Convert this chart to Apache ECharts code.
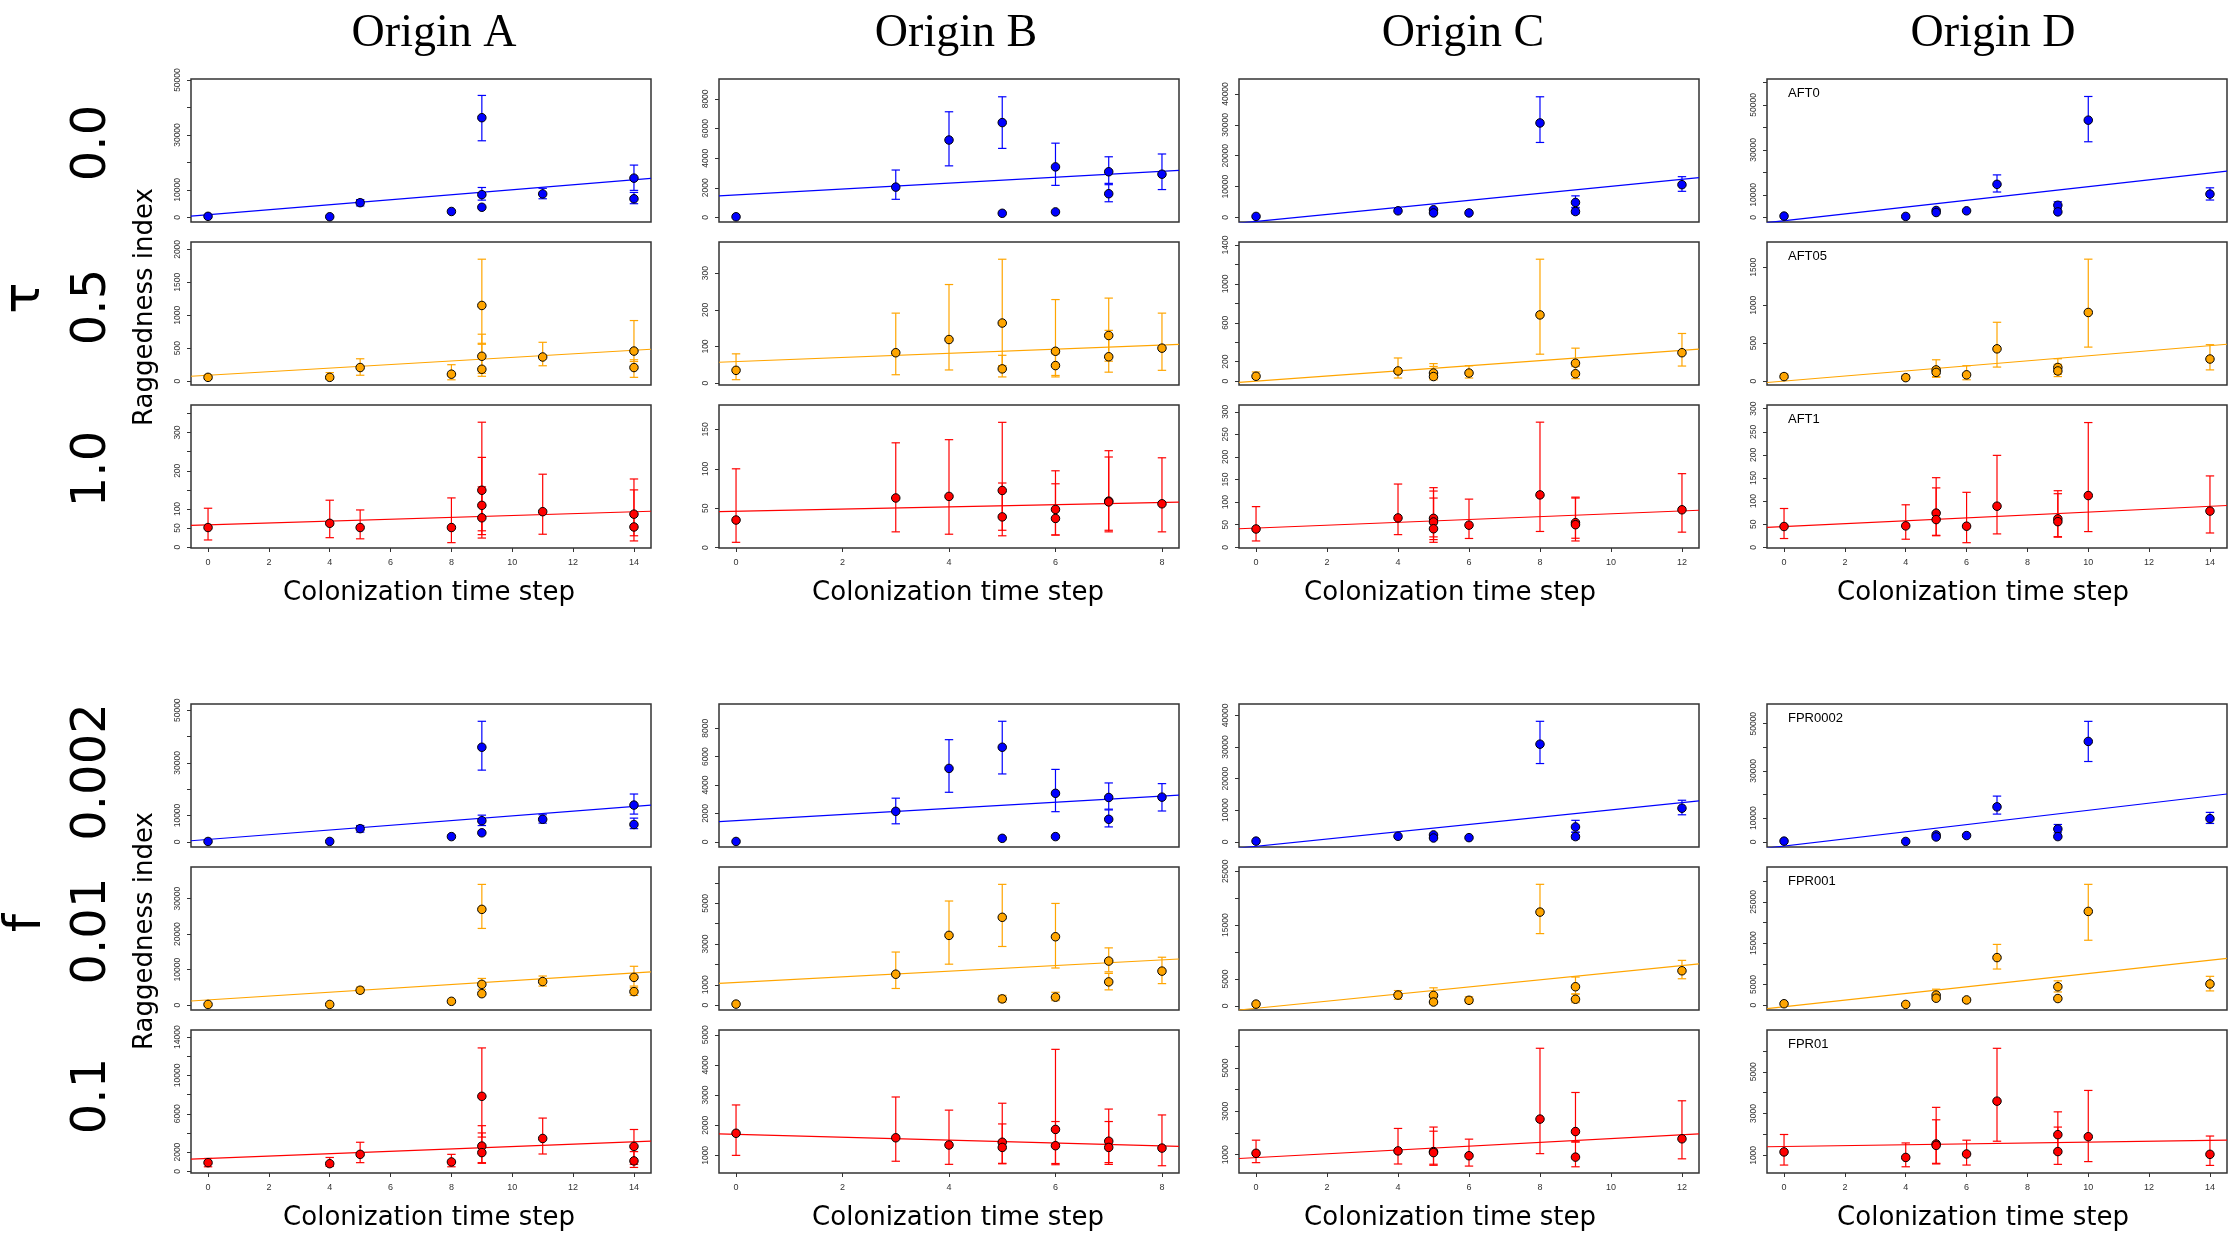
<!DOCTYPE html>
<html>
<head>
<meta charset="utf-8">
<script src="https://cdn.jsdelivr.net/npm/echarts@6/dist/echarts.min.js"></script>
<style>
  html, body { margin: 0; padding: 0; background: #ffffff; }
  #chart { width: 2230px; height: 1235px; }
</style>
</head>
<body>
<div id="chart"></div>
<script>
// ---------- labels ----------
const originNames = ['Origin A', 'Origin B', 'Origin C', 'Origin D'];
const tauLevels = ['0.0', '0.5', '1.0'];
const fprLevels = ['0.002', '0.01', '0.1'];
const tauCodes = ['AFT0', 'AFT05', 'AFT1'];
const fprCodes = ['FPR0002', 'FPR001', 'FPR01'];
const xTitle = 'Colonization time step';
const yTitle = 'Raggedness index';

// ---------- x axes (one per origin) ----------
const xTicksA = [0, 2, 4, 6, 8, 10, 12, 14];
const xTicksB = [0, 2, 4, 6, 8];
const xTicksC = [0, 2, 4, 6, 8, 10, 12];
const xTicksD = [0, 2, 4, 6, 8, 10, 12, 14];
const xRangeA = [-0.56, 14.56];
const xRangeB = [-0.32, 8.32];
const xRangeC = [-0.48, 12.48];
const xRangeD = [-0.56, 14.56];

// ---------- shared y tick sets ----------
const ticks50k = [0, 10000, 20000, 30000, 40000, 50000];
const labels50k = [0, 10000, 30000, 50000];
const ticks60k = [0, 10000, 20000, 30000, 40000, 50000, 60000];
const ticks40k = [0, 10000, 20000, 30000, 40000];
const ticks30k = [0, 10000, 20000, 30000];
const ticks8k = [0, 2000, 4000, 6000, 8000];
const ticks300by50 = [0, 50, 100, 150, 200, 250, 300];
const ticks1to6k = [1000, 2000, 3000, 4000, 5000, 6000];
const labels1to6k = [1000, 3000, 5000];

// ---------- tau block: [time step, mean, lower, upper] ----------
const ptsTauA0 = [[0, 400, null, null], [4, 250, null, null], [5, 5370, 4200, 6500], [8, 2170, null, null],
  [9, 36300, 27900, 44400], [9, 8300, 6300, 10900], [9, 3700, null, null], [11, 8570, 6800, 10600],
  [14, 14300, 9850, 19050], [14, 6800, 5000, 9100]];
const ptsTauA05 = [[0, 58, 30, 95], [4, 58, 30, 130], [5, 207, 90, 340], [8, 106, 21, 250],
  [9, 1149, 560, 1851], [9, 378, 120, 713], [9, 181, 74, 575], [11, 367, 234, 590],
  [14, 457, 298, 920], [14, 207, 58, 325]];
const ptsTauA1 = [[0, 51.5, 19, 102], [4, 62.6, 25, 123], [5, 51.5, 22, 97.5], [8, 51.5, 12, 129],
  [9, 149, 43, 327], [9, 109.5, 33, 235], [9, 77, 24, 158], [11, 93, 34, 191],
  [14, 86.5, 30, 178.5], [14, 53, 16.5, 150]];
const ptsTauB0 = [[0, 47, null, null], [3, 2047, 1224, 3200], [4, 5224, 3482, 7130], [5, 6400, 4659, 8141],
  [5, 282, null, null], [6, 3412, 2165, 5012], [6, 376, null, null], [7, 3082, 2300, 4094],
  [7, 1600, 1059, 2212], [8, 2918, 1882, 4282]];
const ptsTauB05 = [[0, 35, 9.5, 80], [3, 83, 23, 191], [4, 119, 36, 269], [5, 164, 48, 338],
  [5, 39, 17, 76], [6, 87, 21, 228], [6, 48, 17, 80], [7, 130, 60, 232],
  [7, 72, 30, 144], [8, 95.5, 35, 191]];
const ptsTauB1 = [[0, 35, 6.7, 100], [3, 63, 20, 133], [4, 65, 17, 137], [5, 72.5, 22, 159],
  [5, 39, 15, 82], [6, 48.5, 16, 97.5], [6, 37, 16, 81], [7, 59, 22, 123],
  [7, 58, 20, 115], [8, 55.6, 20, 114]];
const ptsTauC0 = [[0, 339, null, null], [4, 2147, null, null], [5, 2486, null, null], [5, 1469, null, null],
  [6, 1469, null, null], [8, 30620, 24300, 39100], [9, 4860, 3050, 7000], [9, 1920, 1200, 3280],
  [12, 10620, 8470, 13220]];
const ptsTauC05 = [[0, 50, 30, 94], [4, 104.5, 32, 238], [5, 83, 30, 180], [5, 47, 14, 151],
  [6, 83, 32, 158], [8, 681, 277, 1254], [9, 184, 60, 339], [9, 76, 25, 150],
  [12, 292, 155, 490]];
const ptsTauC1 = [[0, 40.5, 14, 90], [4, 65, 28, 140], [5, 64, 23, 132], [5, 56, 17, 124.5],
  [5, 41, 11, 109], [6, 49, 19.5, 106.6], [8, 116, 35, 277], [9, 54.5, 20, 111],
  [9, 50, 14, 109], [12, 83, 33.5, 163]];
const ptsTauD0 = [[0, 619, null, null], [4, 464, null, null], [5, 3100, null, null], [5, 2200, null, null],
  [6, 2941, null, null], [7, 14700, 11300, 18900], [9, 5418, 3900, 6966], [9, 2477, null, null],
  [10, 43190, 33600, 53700], [14, 10370, 7740, 13160]];
const ptsTauD05 = [[0, 60, 40, 97], [4, 46, 25, 80], [5, 148, 60, 281], [5, 115, 50, 180],
  [6, 83, 18, 203], [7, 425, 185, 775], [9, 180, 90, 295], [9, 134, 60, 221],
  [10, 904, 448, 1606], [14, 291, 148, 480]];
const ptsTauD1 = [[0, 45, 19, 84], [4, 46.4, 17.5, 92], [5, 74, 26, 150.7], [5, 60, 25, 128.6],
  [6, 45.7, 10, 119], [7, 89, 29, 199], [9, 61.6, 23, 122.5], [9, 55.5, 22, 116],
  [10, 112, 34, 270], [14, 78.4, 31, 154.5]];

// ---------- false-positive-rate block ----------
const ptsFprA0002 = [[0, 132, null, null], [4, 132, null, null], [5, 5000, 3680, 6180], [8, 1974, null, null],
  [9, 35930, 27240, 45800], [9, 8030, 6180, 10130], [9, 3420, null, null], [11, 8550, 7100, 10270],
  [14, 13950, 10530, 18160], [14, 6580, 5000, 9000]];
const ptsFprA001 = [[0, 195, null, null], [4, 195, null, null], [5, 4200, 3420, 5080], [8, 1075, null, null],
  [9, 26970, 21600, 34000], [9, 5860, 4490, 7520], [9, 3225, null, null], [11, 6640, 5370, 8200],
  [14, 7820, 5370, 10940], [14, 3810, 2740, 4900]];
const ptsFprA01 = [[0, 900, 470, 1333], [4, 793, 505, 1440], [5, 1766, 900, 3027], [8, 973, 470, 1766],
  [9, 7820, 3568, 12870], [9, 2630, 900, 4757], [9, 1946, 830, 4000], [11, 3424, 1802, 5550],
  [14, 2595, 720, 4360], [14, 1081, 400, 2050]];
const ptsFprB0002 = [[0, 24, null, null], [3, 2146, 1268, 3073], [4, 5170, 3488, 7195], [5, 6660, 4780, 8490],
  [5, 244, null, null], [6, 3415, 2122, 5100], [6, 366, null, null], [7, 3122, 2300, 4146],
  [7, 1585, 1049, 2244], [8, 3146, 2170, 4098]];
const ptsFprB001 = [[0, 51, null, null], [3, 1518, 818, 2608], [4, 3427, 2012, 5115], [5, 4314, 2881, 5933],
  [5, 307, 150, 480], [6, 3359, 1824, 4996], [6, 392, 222, 631], [7, 2165, 1637, 2813],
  [7, 1142, 750, 1560], [8, 1671, 1057, 2353]];
const ptsFprB01 = [[0, 1733, 1000, 2673], [3, 1584, 805, 2937], [4, 1344, 702, 2501], [5, 1435, 736, 2730],
  [5, 1264, 720, 2043], [6, 1860, 730, 4518], [6, 1321, 690, 2123], [7, 1470, 760, 2536],
  [7, 1264, 700, 2123], [8, 1241, 656, 2341]];
const ptsFprC0002 = [[0, 219, null, null], [4, 1754, null, null], [5, 2190, null, null], [5, 1205, null, null],
  [6, 1315, null, null], [8, 30900, 24770, 38140], [9, 4713, 3000, 6800], [9, 1644, 900, 3070],
  [12, 10630, 8550, 13150]];
const ptsFprC001 = [[0, 322, null, null], [4, 2000, 1225, 2838], [5, 1935, 1000, 3350], [5, 710, 400, 1500],
  [6, 1032, 516, 1677], [8, 17420, 13420, 22580], [9, 3548, 2200, 5354], [9, 1225, 600, 2193],
  [12, 6515, 5031, 8450]];
const ptsFprC01 = [[0, 1064, 633, 1670], [4, 1175, 570, 2211], [5, 1143, 560, 2275], [5, 1096, 510, 2084],
  [6, 952, 474, 1717], [8, 2642, 1048, 5910], [9, 2068, 1590, 3870], [9, 888, 442, 1590],
  [12, 1733, 809, 3487]];
const ptsFprD0002 = [[0, 293, null, null], [4, 147, null, null], [5, 2932, null, null], [5, 2053, null, null],
  [6, 2639, null, null], [7, 14800, 11730, 19350], [9, 5425, 3800, 7330], [9, 2200, null, null],
  [10, 42500, 34000, 51000], [14, 9820, 7770, 12460]];
const ptsFprD001 = [[0, 336, null, null], [4, 168, null, null], [5, 2437, 1500, 3865], [5, 1680, null, null],
  [6, 1260, 800, 1700], [7, 11510, 8740, 14700], [9, 4454, 3190, 5880], [9, 1597, null, null],
  [10, 22690, 15710, 29240], [14, 5126, 3445, 6975]];
const ptsFprD01 = [[0, 1165, 537, 2000], [4, 901, 455, 1595], [5, 1545, 620, 3298], [5, 1479, 590, 2703],
  [6, 1066, 537, 1727], [7, 3595, 1678, 6124], [9, 1992, 1100, 3083], [9, 1182, 570, 2355],
  [10, 1893, 702, 4108], [14, 1050, 520, 1926]];

// ---------- fitted lines: [intercept, slope] ----------
const fitTauA0 = [1000, 910], fitTauA05 = [90, 27.1], fitTauA1 = [58.4, 2.45];
const fitTauB0 = [1523, 198.7], fitTauB05 = [58.8, 5.67], fitTauB1 = [46.2, 1.4];
const fitTauC0 = [-1300, 1140], fitTauC05 = [0, 26.4], fitTauC1 = [42.5, 3.16];
const fitTauD0 = [-1474, 1515], fitTauD05 = [0.6, 33.3], fitTauD1 = [45.1, 3.12];
const fitFprA0002 = [897, 896.5], fitFprA001 = [1476, 543], fitFprA01 = [1330, 124];
const fitFprB0002 = [1485, 217.4], fitFprB001 = [1118, 138], fitFprB01 = [1695, -47.7];
const fitFprC0002 = [-1421, 1150], fitFprC001 = [-456, 662], fitFprC01 = [867, 87.3];
const fitFprD0002 = [-1793, 1512.6], fitFprD001 = [-389, 805.6], fitFprD01 = [1425, 20.8];

// ---------- y ranges ----------
const yRangeTauA0 = [-1660, 50380], yRangeTauA05 = [-58, 2112], yRangeTauA1 = [-2, 372];
const yRangeTauB0 = [-306, 9341], yRangeTauB05 = [-5, 385], yRangeTauB1 = [-0.5, 181];
const yRangeTauC0 = [-1469, 44860], yRangeTauC05 = [-40, 1431], yRangeTauC1 = [-1.6, 315];
const yRangeTauD0 = [-2012, 61460], yRangeTauD05 = [-51, 1832], yRangeTauD1 = [-1.5, 308];
const yRangeFprA0002 = [-1974, 52370], yRangeFprA001 = [-1368, 38900], yRangeFprA01 = [-180, 14740];
const yRangeFprB0002 = [-366, 9707], yRangeFprB001 = [-239, 6786], yRangeFprB01 = [415, 5160];
const yRangeFprC0002 = [-1644, 43620], yRangeFprC001 = [-774, 25800], yRangeFprC01 = [155, 6753];
const yRangeFprD0002 = [-2200, 58350], yRangeFprD001 = [-1176, 33440], yRangeFprD01 = [157, 7000];

// ---------- per-panel y ticks / labels ----------
const yTicksTauA05 = [0, 500, 1000, 1500, 2000];
const yTicksTauA1 = [0, 50, 100, 150, 200, 250, 300, 350], yLabelsTauA1 = [0, 50, 100, 200, 300];
const yTicksTauB05 = [0, 100, 200, 300];
const yTicksTauB1 = [0, 50, 100, 150];
const yTicksTauC05 = [0, 200, 400, 600, 800, 1000, 1200, 1400], yLabelsTauC05 = [0, 200, 600, 1000, 1400];
const yTicksTauD05 = [0, 500, 1000, 1500];
const yTicksFprA01 = [0, 2000, 4000, 6000, 8000, 10000, 12000, 14000], yLabelsFprA01 = [0, 2000, 6000, 10000, 14000];
const yTicksFprB001 = [0, 1000, 2000, 3000, 4000, 5000, 6000], yLabelsFprB001 = [0, 1000, 3000, 5000];
const yTicksFprB01 = [1000, 2000, 3000, 4000, 5000];
const yTicksFprC001 = [0, 5000, 10000, 15000, 20000, 25000], yLabelsFprC001 = [0, 5000, 15000, 25000];
const yTicksFprD001 = [0, 5000, 10000, 15000, 20000, 25000, 30000], yLabelsFprD001 = [0, 5000, 15000, 25000];

// ---------- layout ----------
const COLS = [
  { left: 191, width: 460, titleX: 434, xTitleX: 429 },
  { left: 719, width: 460, titleX: 956, xTitleX: 958 },
  { left: 1239, width: 460, titleX: 1463, xTitleX: 1450 },
  { left: 1767, width: 460, titleX: 1993, xTitleX: 1983 }
];
const ROWS = [
  { top: 79, height: 143 }, { top: 242, height: 143 }, { top: 405, height: 143 },
  { top: 704, height: 143 }, { top: 867, height: 143 }, { top: 1030, height: 143 }
];
const ROW_COLORS = ['#0000FF', '#FFA500', '#FF0000'];
const X_TICKS = [xTicksA, xTicksB, xTicksC, xTicksD];
const X_RANGES = [xRangeA, xRangeB, xRangeC, xRangeD];

// panel table: row-major, [points, fit, yRange, yTicks, yLabels]
const panelTable = [
  // tau block
  [ptsTauA0, fitTauA0, yRangeTauA0, ticks50k, labels50k],
  [ptsTauB0, fitTauB0, yRangeTauB0, ticks8k, ticks8k],
  [ptsTauC0, fitTauC0, yRangeTauC0, ticks40k, ticks40k],
  [ptsTauD0, fitTauD0, yRangeTauD0, ticks60k, labels50k],
  [ptsTauA05, fitTauA05, yRangeTauA05, yTicksTauA05, yTicksTauA05],
  [ptsTauB05, fitTauB05, yRangeTauB05, yTicksTauB05, yTicksTauB05],
  [ptsTauC05, fitTauC05, yRangeTauC05, yTicksTauC05, yLabelsTauC05],
  [ptsTauD05, fitTauD05, yRangeTauD05, yTicksTauD05, yTicksTauD05],
  [ptsTauA1, fitTauA1, yRangeTauA1, yTicksTauA1, yLabelsTauA1],
  [ptsTauB1, fitTauB1, yRangeTauB1, yTicksTauB1, yTicksTauB1],
  [ptsTauC1, fitTauC1, yRangeTauC1, ticks300by50, ticks300by50],
  [ptsTauD1, fitTauD1, yRangeTauD1, ticks300by50, ticks300by50],
  // false positive rate block
  [ptsFprA0002, fitFprA0002, yRangeFprA0002, ticks50k, labels50k],
  [ptsFprB0002, fitFprB0002, yRangeFprB0002, ticks8k, ticks8k],
  [ptsFprC0002, fitFprC0002, yRangeFprC0002, ticks40k, ticks40k],
  [ptsFprD0002, fitFprD0002, yRangeFprD0002, ticks50k, labels50k],
  [ptsFprA001, fitFprA001, yRangeFprA001, ticks30k, ticks30k],
  [ptsFprB001, fitFprB001, yRangeFprB001, yTicksFprB001, yLabelsFprB001],
  [ptsFprC001, fitFprC001, yRangeFprC001, yTicksFprC001, yLabelsFprC001],
  [ptsFprD001, fitFprD001, yRangeFprD001, yTicksFprD001, yLabelsFprD001],
  [ptsFprA01, fitFprA01, yRangeFprA01, yTicksFprA01, yLabelsFprA01],
  [ptsFprB01, fitFprB01, yRangeFprB01, yTicksFprB01, yTicksFprB01],
  [ptsFprC01, fitFprC01, yRangeFprC01, ticks1to6k, labels1to6k],
  [ptsFprD01, fitFprD01, yRangeFprD01, ticks1to6k, labels1to6k]
];

const TICK_FONT = 'Liberation Sans';
const plainNumber = v => String(v);
const grids = [], xAxes = [], yAxes = [], series = [];

panelTable.forEach((p, i) => {
  const [pts, fit, yRange, yTicks, yLabels] = p;
  const row = Math.floor(i / 4), col = i % 4;
  const color = ROW_COLORS[row % 3];
  const bottomRow = (row % 3) === 2;
  const xr = X_RANGES[col];

  grids.push({
    left: COLS[col].left, top: ROWS[row].top,
    width: COLS[col].width, height: ROWS[row].height,
    show: true, borderColor: '#333', borderWidth: 1.5, backgroundColor: 'transparent'
  });
  xAxes.push({
    gridIndex: i, type: 'value', min: xr[0], max: xr[1],
    axisLine: { show: false, onZero: false }, splitLine: { show: false },
    axisTick: { show: bottomRow, length: 4, customValues: X_TICKS[col], lineStyle: { color: '#333', width: 1 } },
    axisLabel: { show: bottomRow, customValues: X_TICKS[col], formatter: plainNumber,
      fontSize: 9, fontFamily: TICK_FONT, color: '#333', margin: 10 }
  });
  yAxes.push({
    gridIndex: i, type: 'value', min: yRange[0], max: yRange[1],
    axisLine: { show: false, onZero: false }, splitLine: { show: false },
    axisTick: { show: true, length: 4, customValues: yTicks, lineStyle: { color: '#333', width: 1 } },
    axisLabel: { customValues: yLabels, formatter: plainNumber, rotate: 90,
      fontSize: 8.5, fontFamily: TICK_FONT, color: '#333', margin: 9 }
  });

  // fitted regression line across the full panel width
  series.push({
    type: 'line', xAxisIndex: i, yAxisIndex: i, silent: true, clip: true,
    symbol: 'none', z: 1,
    lineStyle: { color: color, width: 1.2 },
    data: [[xr[0], fit[0] + fit[1] * xr[0]], [xr[1], fit[0] + fit[1] * xr[1]]]
  });
  // error bars
  series.push({
    type: 'custom', xAxisIndex: i, yAxisIndex: i, silent: true, clip: true, z: 2,
    data: pts.filter(d => d[2] !== null).map(d => [d[0], d[2], d[3]]),
    encode: { x: 0, y: [1, 2] },
    renderItem: (params, api) => {
      const x = api.value(0);
      const lo = api.coord([x, api.value(1)]);
      const hi = api.coord([x, api.value(2)]);
      const hw = 4.2;
      const style = { stroke: color, lineWidth: 1.2, fill: null };
      return {
        type: 'group',
        children: [
          { type: 'line', shape: { x1: lo[0], y1: lo[1], x2: hi[0], y2: hi[1] }, style },
          { type: 'line', shape: { x1: lo[0] - hw, y1: lo[1], x2: lo[0] + hw, y2: lo[1] }, style },
          { type: 'line', shape: { x1: hi[0] - hw, y1: hi[1], x2: hi[0] + hw, y2: hi[1] }, style }
        ]
      };
    }
  });
  // means
  series.push({
    type: 'scatter', xAxisIndex: i, yAxisIndex: i, silent: true, z: 3,
    symbol: 'circle', symbolSize: 8.5,
    itemStyle: { color: color, borderColor: '#000', borderWidth: 1, opacity: 1 },
    data: pts.map(d => [d[0], d[1]])
  });
});

// ---------- text ----------
const graphics = [];
function txt(x, y, text, font, align, rot) {
  graphics.push({
    type: 'text', x: x, y: y, rotation: rot || 0, silent: true,
    style: {
      text: text, font: font, fill: '#000',
      align: align || 'center', verticalAlign: 'middle',
      textAlign: align || 'center', textVerticalAlign: 'middle'
    }
  });
}
const R90 = Math.PI / 2;
originNames.forEach((n, c) => txt(COLS[c].titleX, 34, n, '46px "Liberation Serif"'));
[593, 1218].forEach(y => COLS.forEach(c => txt(c.xTitleX, y, xTitle, '26px "DejaVu Sans"')));
txt(145, 307, yTitle, '26px "DejaVu Sans"', 'center', R90);
txt(145, 931, yTitle, '26px "DejaVu Sans"', 'center', R90);
txt(25, 298, 'τ', '52px "DejaVu Sans"', 'center', R90);
txt(26, 923, 'f', '52px "DejaVu Sans"', 'center', R90);
[143, 307, 469].forEach((y, k) => txt(93, y, tauLevels[k], '48px "DejaVu Sans"', 'center', R90));
[772, 931, 1096].forEach((y, k) => txt(93, y, fprLevels[k], '48px "DejaVu Sans"', 'center', R90));
tauCodes.forEach((s, k) => txt(COLS[3].left + 21, ROWS[k].top + 14.5, s, '13px "Liberation Sans"', 'left'));
fprCodes.forEach((s, k) => txt(COLS[3].left + 21, ROWS[k + 3].top + 14.5, s, '13px "Liberation Sans"', 'left'));

const chart = echarts.init(document.getElementById('chart'), null, { renderer: 'canvas' });
chart.setOption({
  animation: false,
  backgroundColor: '#ffffff',
  grid: grids,
  xAxis: xAxes,
  yAxis: yAxes,
  series: series,
  graphic: { elements: graphics }
});
</script>
</body>
</html>
